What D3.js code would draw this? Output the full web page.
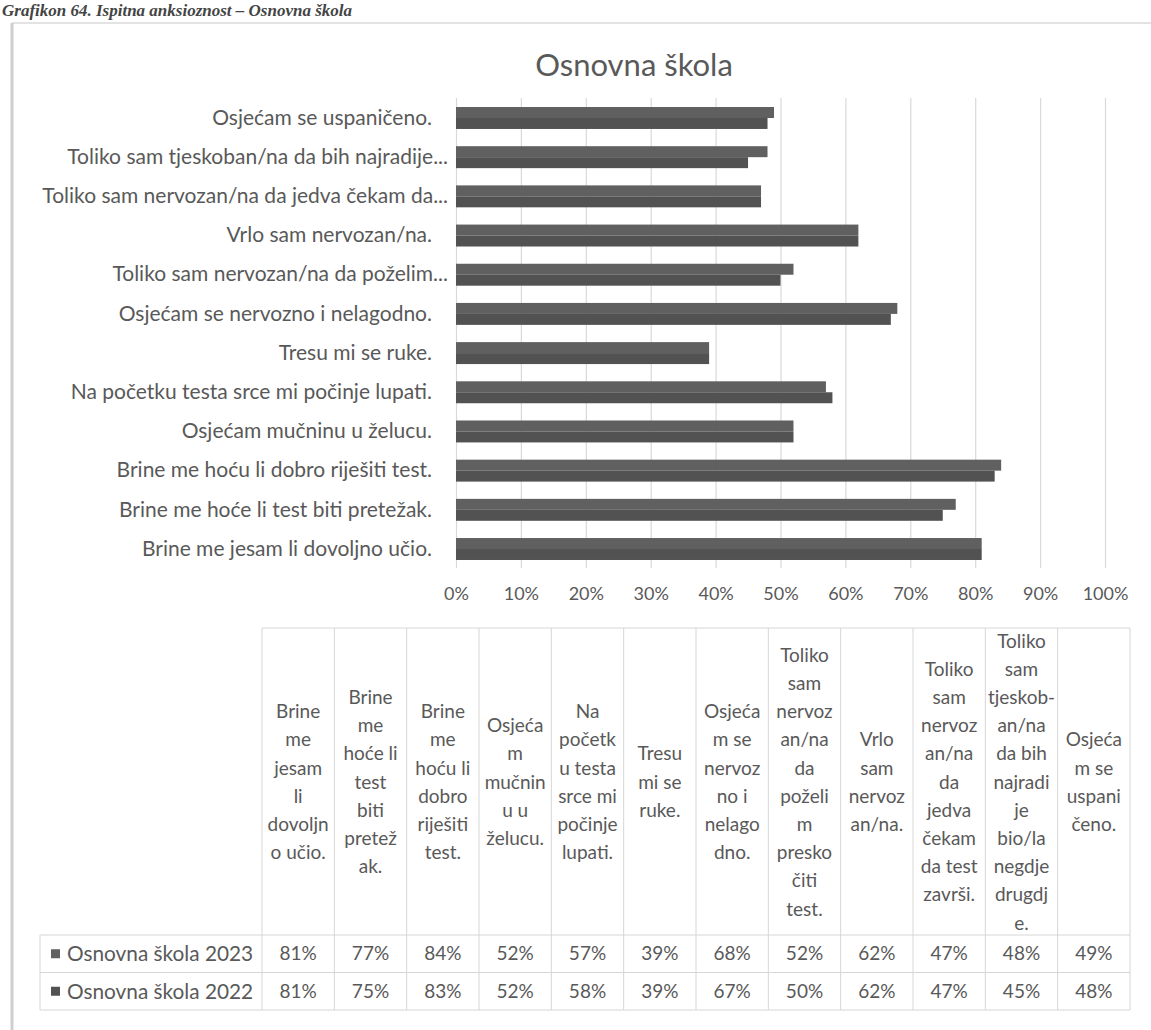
<!DOCTYPE html>
<html>
<head>
<meta charset="utf-8">
<script src="https://cdn.jsdelivr.net/npm/d3@7"></script>
<style>
  html, body { margin: 0; padding: 0; background: #ffffff; }
  svg { display: block; }
  text { font-family: Lato, "Open Sans", sans-serif; }
</style>
</head>
<body>
<script>
// ---------- DATA ----------
const categories = [
  "Brine me jesam li dovoljno učio.",
  "Brine me hoće li test biti pretežak.",
  "Brine me hoću li dobro riješiti test.",
  "Osjećam mučninu u želucu.",
  "Na početku testa srce mi počinje lupati.",
  "Tresu mi se ruke.",
  "Osjećam se nervozno i nelagodno.",
  "Toliko sam nervozan/na da poželim preskočiti test.",
  "Vrlo sam nervozan/na.",
  "Toliko sam nervozan/na da jedva čekam da test završi.",
  "Toliko sam tjeskoban/na da bih najradije bio/la negdje drugdje.",
  "Osjećam se uspaničeno."
];
const axisLabels = [
  "Brine me jesam li dovoljno učio.",
  "Brine me hoće li test biti pretežak.",
  "Brine me hoću li dobro riješiti test.",
  "Osjećam mučninu u želucu.",
  "Na početku testa srce mi počinje lupati.",
  "Tresu mi se ruke.",
  "Osjećam se nervozno i nelagodno.",
  "Toliko sam nervozan/na da poželim...",
  "Vrlo sam nervozan/na.",
  "Toliko sam nervozan/na da jedva čekam da...",
  "Toliko sam tjeskoban/na da bih najradije...",
  "Osjećam se uspaničeno."
];
const tableHeaderLines = [
  ["Brine","me","jesam","li","dovoljn","o učio."],
  ["Brine","me","hoće li","test","biti","pretež","ak."],
  ["Brine","me","hoću li","dobro","riješiti","test."],
  ["Osjeća","m","mučnin","u u","želucu."],
  ["Na","početk","u testa","srce mi","počinje","lupati."],
  ["Tresu","mi se","ruke."],
  ["Osjeća","m se","nervoz","no i","nelago","dno."],
  ["Toliko","sam","nervoz","an/na","da","poželi","m","presko","čiti","test."],
  ["Vrlo","sam","nervoz","an/na."],
  ["Toliko","sam","nervoz","an/na","da","jedva","čekam","da test","završi."],
  ["Toliko","sam","tjeskob-","an/na","da bih","najradi","je","bio/la","negdje","drugdj","e."],
  ["Osjeća","m se","uspani","čeno."]
];
const seriesNames = ["Osnovna škola 2023", "Osnovna škola 2022"];
const values2023 = [81, 77, 84, 52, 57, 39, 68, 52, 62, 47, 48, 49];
const values2022 = [81, 75, 83, 52, 58, 39, 67, 50, 62, 47, 45, 48];
const seriesValues = [values2023, values2022];
const xTickValues = [0, 10, 20, 30, 40, 50, 60, 70, 80, 90, 100];
const chartTitle = "Osnovna škola";
const captionText = "Grafikon 64. Ispitna anksioznost – Osnovna škola";

// ---------- LAYOUT ----------
const W = 1151, H = 1030;
const textColor = "#595959";
const gridColor = "#d9d9d9";
const seriesColors = ["#606060", "#525252"];

const svg = d3.select("body").append("svg").attr("width", W).attr("height", H);

// caption at the very top
svg.append("text")
  .attr("x", 2).attr("y", 16)
  .style("font-family", "'Liberation Serif', 'DejaVu Serif', serif")
  .attr("font-size", 17).attr("font-weight", "bold").attr("font-style", "italic")
  .attr("fill", "#444")
  .text(captionText);

// frame
svg.append("line").attr("x1", 12).attr("x2", W).attr("y1", 23).attr("y2", 23)
  .attr("stroke", "#e3e3e3").attr("stroke-width", 2);
svg.append("line").attr("x1", 12).attr("x2", 12).attr("y1", 23).attr("y2", H)
  .attr("stroke", "#cfcfcf").attr("stroke-width", 3);

// title
svg.append("text")
  .attr("x", 634).attr("y", 76)
  .attr("text-anchor", "middle")
  .attr("font-size", 31)
  .attr("fill", textColor)
  .text(chartTitle);

// scales
const x = d3.scaleLinear().domain([0, 100]).range([456, 1105]);
const y = d3.scaleBand()
  .domain(d3.range(categories.length).reverse())
  .range([98.4, 568.6])
  .paddingInner(0.44).paddingOuter(0.22);
const ySub = d3.scaleBand().domain([0, 1]).range([0, y.bandwidth()]);

// gridlines
const grid = svg.append("g").attr("transform", `translate(0,${98})`)
  .call(d3.axisBottom(x).tickValues(xTickValues).tickSize(470).tickFormat(""));
grid.select(".domain").remove();
grid.selectAll("line").attr("stroke", gridColor).attr("stroke-width", 1.2);

// x tick labels
const xAxis = svg.append("g").attr("transform", `translate(0,${568})`)
  .call(d3.axisBottom(x).tickValues(xTickValues).tickSize(0).tickPadding(19)
    .tickFormat(d => d + "%"));
xAxis.select(".domain").remove();
xAxis.selectAll("text")
  .attr("font-size", 18).attr("fill", textColor)
  .style("font-family", "Lato, 'Open Sans', sans-serif");

// y labels (truncated labels with an ellipsis sit a little further right, as in Excel)
const yAxis = svg.append("g").attr("transform", `translate(${456},0)`)
  .call(d3.axisLeft(y).tickSize(0).tickPadding(24).tickFormat(i => axisLabels[i]));
yAxis.select(".domain").remove();
yAxis.selectAll("text")
  .attr("font-size", 21).attr("fill", textColor)
  .style("font-family", "Lato, 'Open Sans', sans-serif")
  .attr("dx", function() { return this.textContent.endsWith("...") ? 16 : 0; });

// bars
seriesValues.forEach((vals, s) => {
  svg.append("g").selectAll("rect")
    .data(vals)
    .join("rect")
    .attr("x", x(0))
    .attr("y", (d, i) => y(i) + ySub(s))
    .attr("width", d => x(d) - x(0))
    .attr("height", ySub.bandwidth())
    .attr("fill", seriesColors[s]);
});

// ---------- DATA TABLE ----------
const colX = d3.scaleBand().domain(d3.range(categories.length)).range([262, 1130]);
const headerTop = 628;
const rowY = d3.scaleBand().domain([0, 1]).range([935, 1010]);
const legendLeft = 40;
const tbl = svg.append("g");
const tableLine = "#d6d6d6";

// header cell borders
tbl.append("line").attr("x1", colX.range()[0]).attr("x2", colX.range()[1])
  .attr("y1", headerTop).attr("y2", headerTop).attr("stroke", tableLine);
colX.domain().concat([categories.length]).forEach(i => {
  const xx = i < categories.length ? colX(i) : colX.range()[1];
  tbl.append("line").attr("x1", xx).attr("x2", xx)
    .attr("y1", headerTop).attr("y2", rowY.range()[1]).attr("stroke", tableLine);
});
// row borders
[rowY(0), rowY(1), rowY.range()[1]].forEach(yy => {
  tbl.append("line").attr("x1", legendLeft).attr("x2", colX.range()[1])
    .attr("y1", yy).attr("y2", yy).attr("stroke", tableLine);
});
tbl.append("line").attr("x1", legendLeft).attr("x2", legendLeft)
  .attr("y1", rowY(0)).attr("y2", rowY.range()[1]).attr("stroke", tableLine);

// header texts
const lineH = 28.2;
const headerMid = 782;
tableHeaderLines.forEach((lines, i) => {
  const t = tbl.append("text")
    .attr("text-anchor", "middle")
    .attr("font-size", 19)
    .attr("fill", textColor);
  const y0 = headerMid - (lines.length - 1) * lineH / 2;
  lines.forEach((ln, k) => {
    t.append("tspan")
      .attr("x", colX(i) + colX.bandwidth() / 2)
      .attr("y", y0 + k * lineH)
      .attr("dy", "0.35em")
      .text(ln);
  });
});

// legend + values
seriesNames.forEach((name, s) => {
  const cy = rowY(s) + rowY.bandwidth() / 2;
  tbl.append("rect").attr("x", 51).attr("y", cy - 4.5).attr("width", 9).attr("height", 9)
    .attr("fill", seriesColors[s]);
  tbl.append("text").attr("x", 67).attr("y", cy).attr("dy", "0.35em")
    .attr("font-size", 20.8).attr("fill", textColor).text(name);
  tbl.append("g").selectAll("text")
    .data(seriesValues[s])
    .join("text")
    .attr("x", (d, i) => colX(i) + colX.bandwidth() / 2)
    .attr("y", cy).attr("dy", "0.35em")
    .attr("text-anchor", "middle")
    .attr("font-size", 19).attr("fill", textColor)
    .text(d => d + "%");
});
</script>
</body>
</html>
